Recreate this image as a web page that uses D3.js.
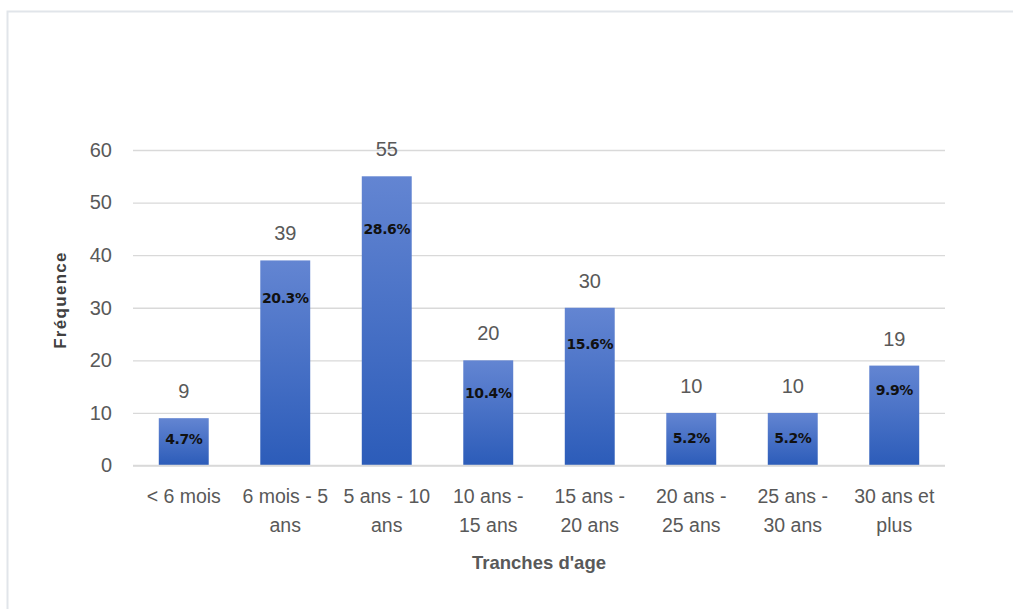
<!DOCTYPE html>
<html>
<head>
<meta charset="utf-8">
<script src="https://cdn.jsdelivr.net/npm/d3@7/dist/d3.min.js"></script>
<style>
  html, body { margin: 0; padding: 0; background: #fff; }
  svg { display: block; }
</style>
</head>
<body>
<div id="chart"></div>
<script>
// ---- data ----
const categories = ["< 6 mois", "6 mois - 5 ans", "5 ans - 10 ans", "10 ans - 15 ans",
                    "15 ans - 20 ans", "20 ans - 25 ans", "25 ans - 30 ans", "30 ans et plus"];
const categoryLines = [["< 6 mois"], ["6 mois - 5", "ans"], ["5 ans - 10", "ans"], ["10 ans -", "15 ans"],
                       ["15 ans -", "20 ans"], ["20 ans -", "25 ans"], ["25 ans -", "30 ans"], ["30 ans et", "plus"]];
const frequencies = [9, 39, 55, 20, 30, 10, 10, 19];
const percentLabels = ["4.7%", "20.3%", "28.6%", "10.4%", "15.6%", "5.2%", "5.2%", "9.9%"];
// level (in frequency units) at which each percentage label sits inside its bar
const percentLevel = [5.1, 31.8, 45, 13.7, 23, 5.3, 5.3, 14.3];
const yTicks = [0, 10, 20, 30, 40, 50, 60];
const yTitle = "Fréquence";
const xTitle = "Tranches d'age";

// ---- layout ----
const W = 1013, H = 609;
const plot = { left: 133, right: 945, top: 150, bottom: 465.5 };

const svg = d3.select("#chart").append("svg").attr("width", W).attr("height", H);

// chart area frame (top & left visible)
svg.append("path")
  .attr("d", `M7.5,${H} L7.5,11.5 L${W},11.5`)
  .attr("fill", "none").attr("stroke", "#e1e5ea").attr("stroke-width", 2);

const x = d3.scaleBand().domain(categories).range([plot.left, plot.right]).paddingInner(0.508).paddingOuter(0.254);
const y = d3.scaleLinear().domain([0, 60]).range([plot.bottom, plot.top]);

const defs = svg.append("defs");
const grad = defs.append("linearGradient").attr("id", "barGrad")
  .attr("x1", 0).attr("y1", 0).attr("x2", 0).attr("y2", 1);
grad.append("stop").attr("offset", "0%").attr("stop-color", "#6385d2");
grad.append("stop").attr("offset", "100%").attr("stop-color", "#2c5cb9");

// gridlines
const yAxis = d3.axisLeft(y).tickValues(yTicks).tickSize(-(plot.right - plot.left)).tickPadding(21);
const gy = svg.append("g").attr("transform", `translate(${plot.left},0)`).call(yAxis);
gy.select(".domain").remove();
gy.selectAll(".tick line").attr("stroke", "#d9d9d9").attr("stroke-width", 1.3);
gy.selectAll(".tick text")
  .attr("font-family", "'Liberation Sans', Arial, sans-serif")
  .attr("font-size", 20).attr("fill", "#595959");

// bars
svg.append("g").selectAll("rect").data(frequencies).join("rect")
  .attr("x", (d, i) => x(categories[i]))
  .attr("y", d => y(d))
  .attr("width", x.bandwidth())
  .attr("height", d => y(0) - y(d))
  .attr("fill", "url(#barGrad)");

// x axis baseline
svg.append("line")
  .attr("x1", plot.left).attr("x2", plot.right)
  .attr("y1", y(0)).attr("y2", y(0))
  .attr("stroke", "#d9d9d9").attr("stroke-width", 1.3);

// value labels
svg.append("g").selectAll("text").data(frequencies).join("text")
  .attr("x", (d, i) => x(categories[i]) + x.bandwidth() / 2)
  .attr("y", d => y(d) - 20)
  .attr("text-anchor", "middle")
  .attr("font-family", "'Liberation Sans', Arial, sans-serif")
  .attr("font-size", 20).attr("fill", "#595959")
  .text(d => d);

// percent labels
svg.append("g").selectAll("text").data(percentLabels).join("text")
  .attr("x", (d, i) => x(categories[i]) + x.bandwidth() / 2)
  .attr("y", (d, i) => y(percentLevel[i]))
  .attr("dy", "0.35em")
  .attr("text-anchor", "middle")
  .attr("font-family", "'DejaVu Sans', sans-serif")
  .attr("font-weight", "bold")
  .attr("font-size", 14).attr("letter-spacing", -0.4).attr("fill", "#111")
  .text(d => d);

// x tick labels
const xl = svg.append("g").selectAll("text").data(categoryLines).join("text")
  .attr("text-anchor", "middle")
  .attr("font-family", "'Liberation Sans', Arial, sans-serif")
  .attr("font-size", 19.5).attr("fill", "#595959");
xl.each(function(lines, i) {
  const cx = x(categories[i]) + x.bandwidth() / 2;
  d3.select(this).selectAll("tspan").data(lines).join("tspan")
    .attr("x", cx)
    .attr("y", (d, j) => y(0) + 37 + j * 29)
    .text(d => d);
});

// axis titles
svg.append("text")
  .attr("x", (plot.left + plot.right) / 2).attr("y", 569)
  .attr("text-anchor", "middle")
  .attr("font-family", "'Liberation Sans', Arial, sans-serif")
  .attr("font-weight", "bold").attr("font-size", 18.5).attr("fill", "#595959")
  .text(xTitle);

svg.append("text")
  .attr("transform", "translate(66,300) rotate(-90)")
  .attr("text-anchor", "middle")
  .attr("font-family", "'Liberation Sans', Arial, sans-serif")
  .attr("font-weight", "bold").attr("font-size", 17).attr("letter-spacing", 1.3).attr("fill", "#404040")
  .text(yTitle);
</script>
</body>
</html>
